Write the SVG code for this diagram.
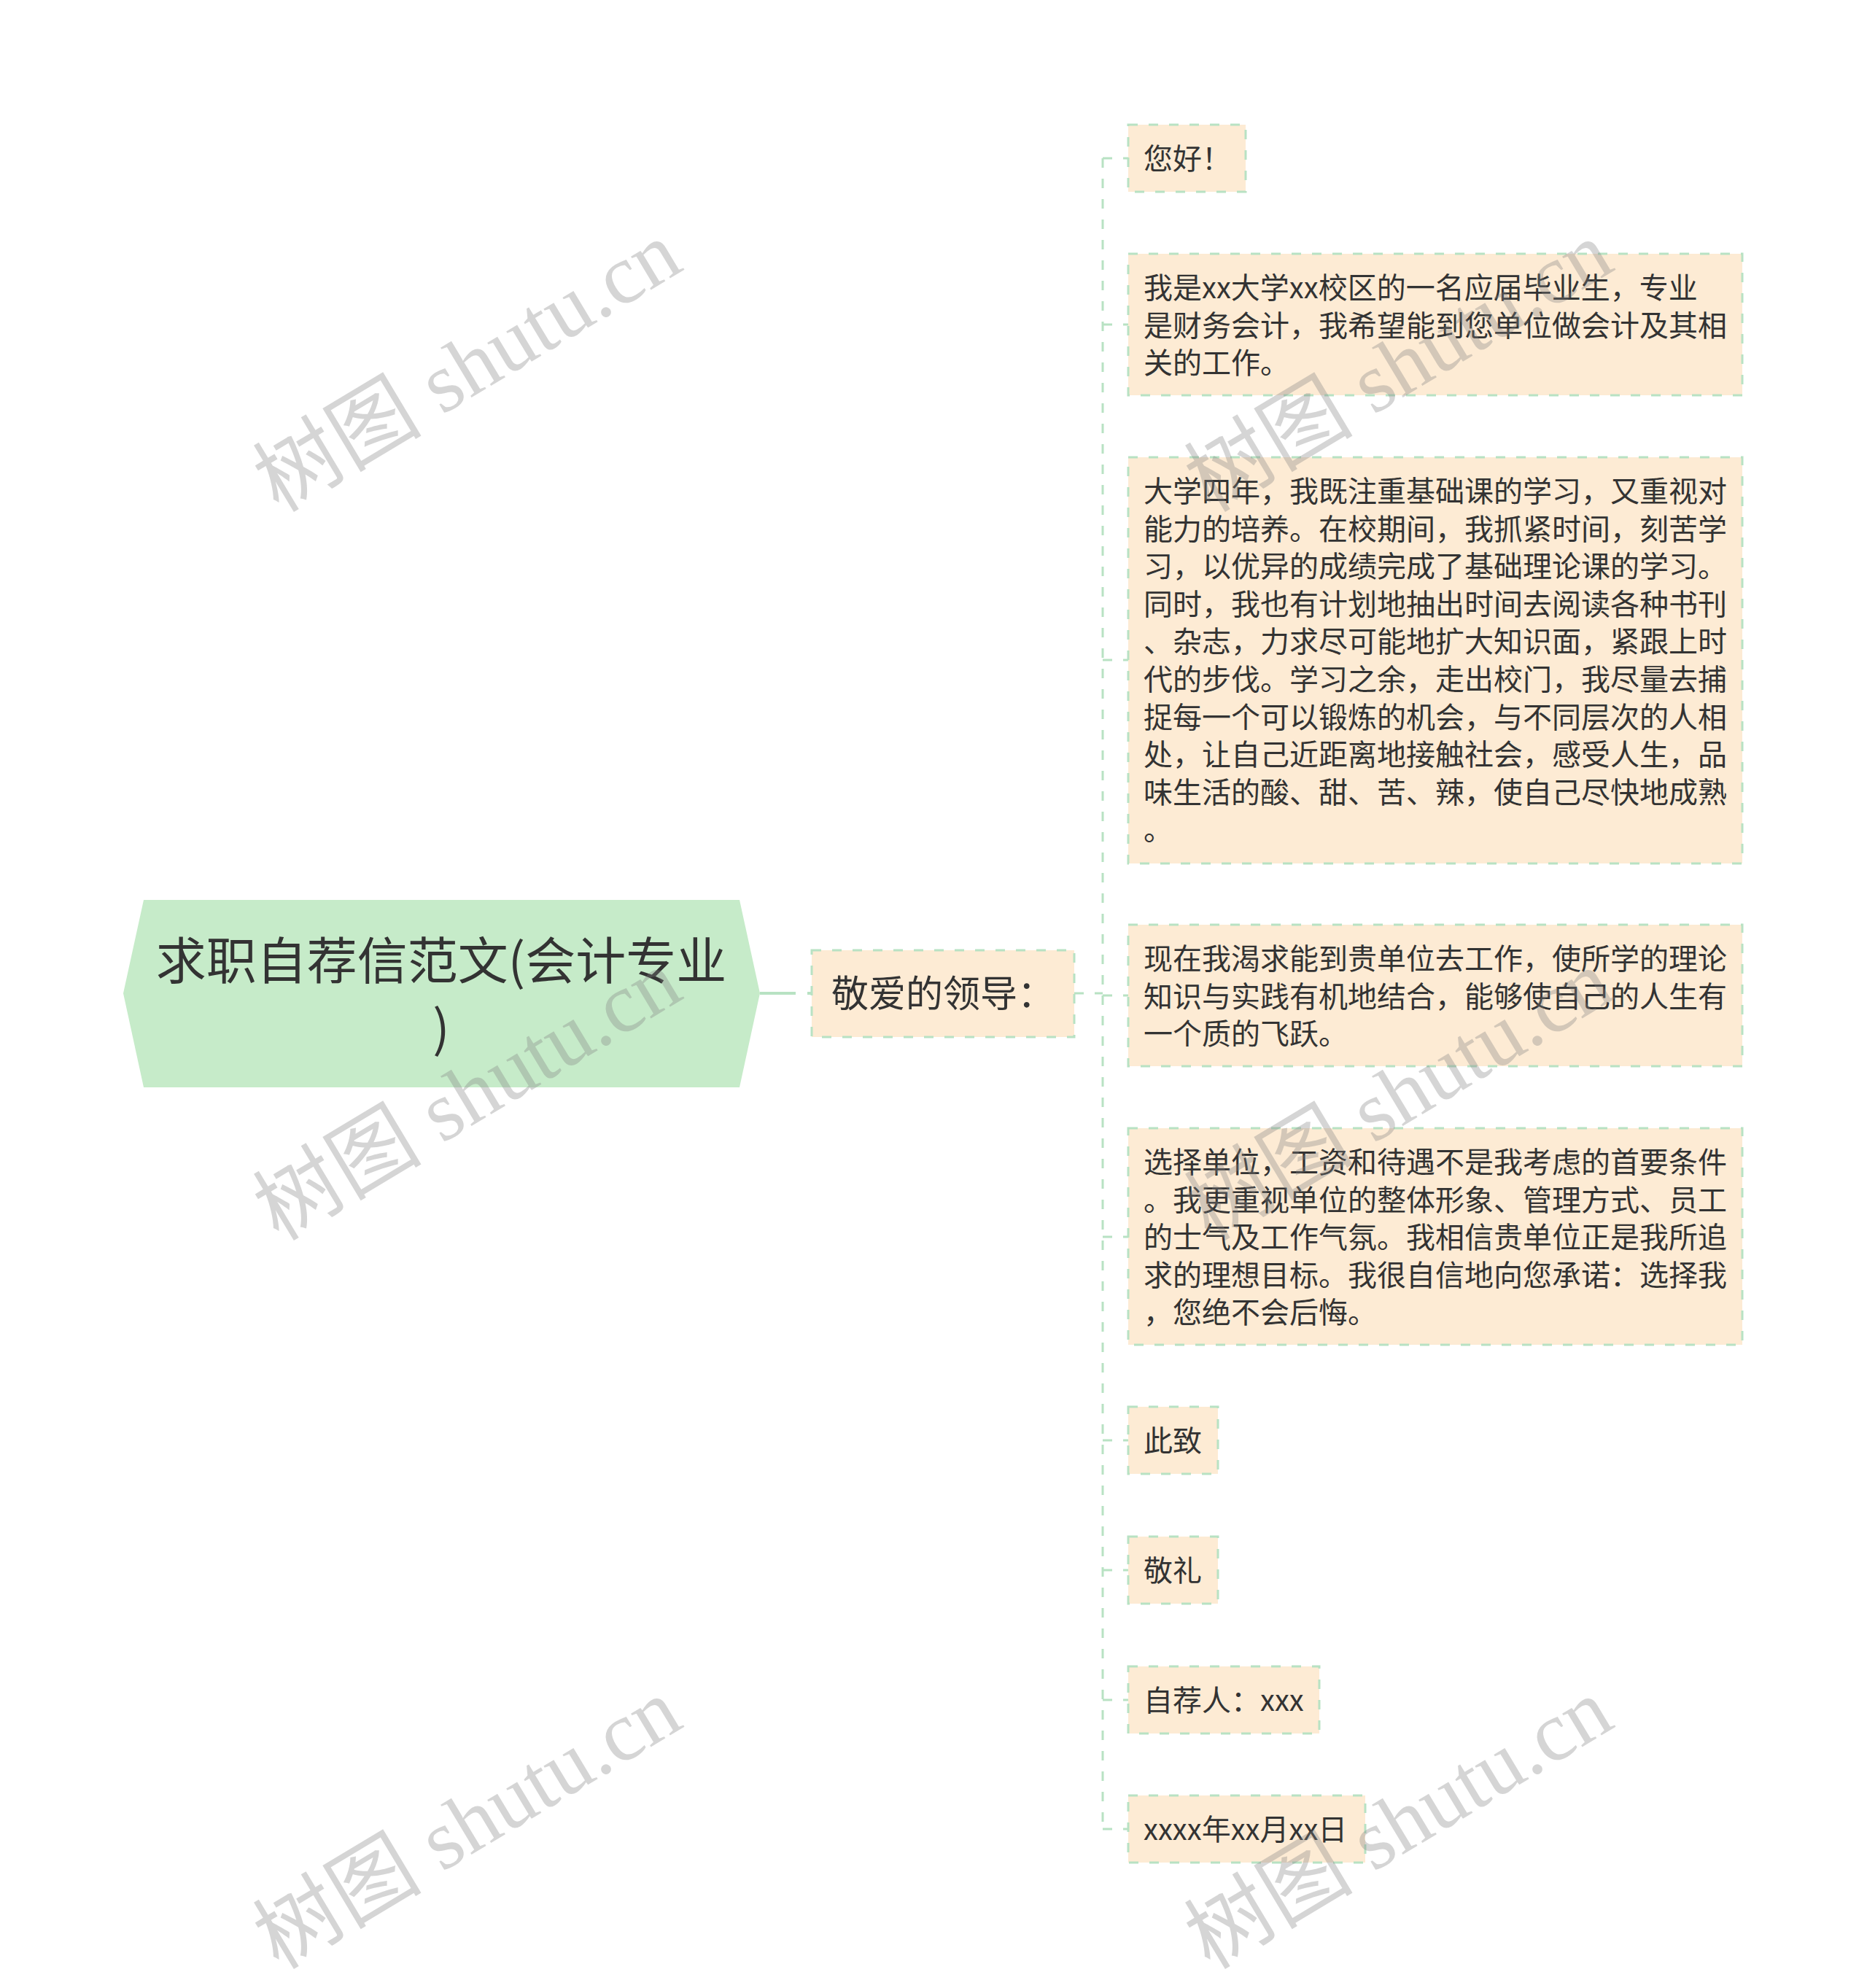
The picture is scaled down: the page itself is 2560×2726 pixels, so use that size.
<svg xmlns="http://www.w3.org/2000/svg" width="2560" height="2726" viewBox="0 0 2560 2726">
<style>
.t{font-family:"Noto Sans CJK SC","Noto Sans",sans-serif;fill:#333333}
.leaf rect,.branch rect{fill:#fdebd4;stroke:#b8e2c3;stroke-width:3;stroke-dasharray:13 15}
.lt{font-size:40px}
.conn{fill:none;stroke:#b8e2c3;stroke-width:3;stroke-dasharray:13 15}
.wm{font-family:"Liberation Serif","Noto Sans CJK SC",serif;font-size:116px;fill:#7f7f7f;fill-opacity:0.33}
</style>
<rect x="0" y="0" width="2560" height="2726" fill="#ffffff"/>
<g id="connectors">
<line x1="1042" y1="1362" x2="1113" y2="1362" stroke="#b8e2c3" stroke-width="4" stroke-dasharray="49 16"/>
<line class="conn" x1="1473" y1="1362" x2="1512" y2="1362"/>
<line class="conn" x1="1512" y1="217" x2="1512" y2="2508"/>
<line class="conn" x1="1512" y1="217" x2="1547" y2="217"/>
<line class="conn" x1="1512" y1="445" x2="1547" y2="445"/>
<line class="conn" x1="1512" y1="905" x2="1547" y2="905"/>
<line class="conn" x1="1512" y1="1365" x2="1547" y2="1365"/>
<line class="conn" x1="1512" y1="1696" x2="1547" y2="1696"/>
<line class="conn" x1="1512" y1="1975" x2="1547" y2="1975"/>
<line class="conn" x1="1512" y1="2153" x2="1547" y2="2153"/>
<line class="conn" x1="1512" y1="2331" x2="1547" y2="2331"/>
<line class="conn" x1="1512" y1="2508" x2="1547" y2="2508"/>
</g>
<g id="root">
<polygon points="197,1234 1014,1234 1042,1362 1014,1491 197,1491 169,1362" fill="#c6ebc9"/>
<text class="t" font-size="69" text-anchor="middle"><tspan x="605" y="1343">求职自荐信范文(会计专业</tspan><tspan x="605" y="1435">)</tspan></text>
</g>
<g id="branch" class="branch">
<rect x="1113" y="1303" width="360" height="119"/>
<text class="t" font-size="51" x="1140" y="1381">敬爱的领导：</text>
</g>
<g id="leaf1" class="leaf">
<rect x="1547" y="171" width="161" height="92"/>
<text class="t lt" x="1568" y="232">您好！</text>
</g>
<g id="leaf2" class="leaf">
<rect x="1547" y="348" width="842" height="194"/>
<text class="t lt"><tspan x="1568" y="409">我是xx大学xx校区的一名应届毕业生，专业</tspan><tspan x="1568" dy="51.6">是财务会计，我希望能到您单位做会计及其相</tspan><tspan x="1568" dy="51.6">关的工作。</tspan></text>
</g>
<g id="leaf3" class="leaf">
<rect x="1547" y="627" width="842" height="557"/>
<text class="t lt"><tspan x="1568" y="688">大学四年，我既注重基础课的学习，又重视对</tspan><tspan x="1568" dy="51.6">能力的培养。在校期间，我抓紧时间，刻苦学</tspan><tspan x="1568" dy="51.6">习，以优异的成绩完成了基础理论课的学习。</tspan><tspan x="1568" dy="51.6">同时，我也有计划地抽出时间去阅读各种书刊</tspan><tspan x="1568" dy="51.6">、杂志，力求尽可能地扩大知识面，紧跟上时</tspan><tspan x="1568" dy="51.6">代的步伐。学习之余，走出校门，我尽量去捕</tspan><tspan x="1568" dy="51.6">捉每一个可以锻炼的机会，与不同层次的人相</tspan><tspan x="1568" dy="51.6">处，让自己近距离地接触社会，感受人生，品</tspan><tspan x="1568" dy="51.6">味生活的酸、甜、苦、辣，使自己尽快地成熟</tspan><tspan x="1568" dy="51.6">。</tspan></text>
</g>
<g id="leaf4" class="leaf">
<rect x="1547" y="1268" width="842" height="194"/>
<text class="t lt"><tspan x="1568" y="1329">现在我渴求能到贵单位去工作，使所学的理论</tspan><tspan x="1568" dy="51.6">知识与实践有机地结合，能够使自己的人生有</tspan><tspan x="1568" dy="51.6">一个质的飞跃。</tspan></text>
</g>
<g id="leaf5" class="leaf">
<rect x="1547" y="1547" width="842" height="297"/>
<text class="t lt"><tspan x="1568" y="1608">选择单位，工资和待遇不是我考虑的首要条件</tspan><tspan x="1568" dy="51.6">。我更重视单位的整体形象、管理方式、员工</tspan><tspan x="1568" dy="51.6">的士气及工作气氛。我相信贵单位正是我所追</tspan><tspan x="1568" dy="51.6">求的理想目标。我很自信地向您承诺：选择我</tspan><tspan x="1568" dy="51.6">，您绝不会后悔。</tspan></text>
</g>
<g id="leaf6" class="leaf">
<rect x="1547" y="1929" width="123" height="92"/>
<text class="t lt" x="1568" y="1990">此致</text>
</g>
<g id="leaf7" class="leaf">
<rect x="1547" y="2107" width="123" height="92"/>
<text class="t lt" x="1568" y="2168">敬礼</text>
</g>
<g id="leaf8" class="leaf">
<rect x="1547" y="2285" width="262" height="92"/>
<text class="t lt" x="1568" y="2346">自荐人：xxx</text>
</g>
<g id="leaf9" class="leaf">
<rect x="1547" y="2462" width="325" height="92"/>
<text class="t lt" x="1568" y="2523">xxxx年xx月xx日</text>
</g>
<g id="watermarks">
<text class="wm" transform="translate(382,704) rotate(-31)">树图 shutu.cn</text>
<text class="wm" transform="translate(382,1703) rotate(-31)">树图 shutu.cn</text>
<text class="wm" transform="translate(382,2702) rotate(-31)">树图 shutu.cn</text>
<text class="wm" transform="translate(1659,704) rotate(-31)">树图 shutu.cn</text>
<text class="wm" transform="translate(1659,1703) rotate(-31)">树图 shutu.cn</text>
<text class="wm" transform="translate(1659,2702) rotate(-31)">树图 shutu.cn</text>
</g>
</svg>
